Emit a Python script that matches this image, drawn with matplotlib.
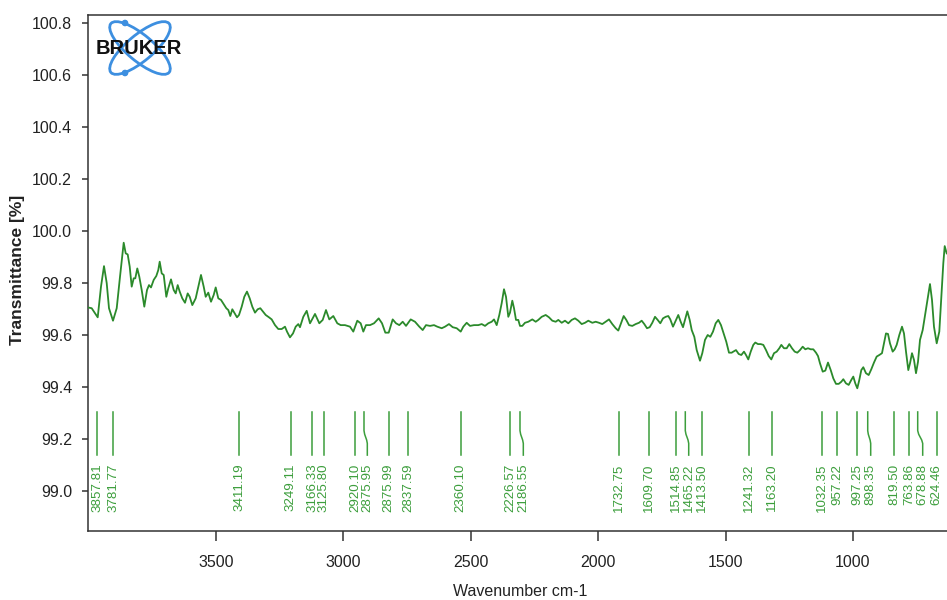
"""FTIR spectrum with peak markers, Bruker-style."""

import matplotlib

matplotlib.use("Agg")
import matplotlib.pyplot as plt
from matplotlib.patches import Ellipse, Circle

SPEC = "#2b8a2b"
PEAK = "#3c9e3c"
AXIS = "#333333"
LOGO = "#3d8fe0"

plt.rcParams.update(
    {
        "font.family": ["Liberation Sans", "DejaVu Sans"],
        "font.size": 11,
        "axes.linewidth": 1.1,
        "axes.edgecolor": AXIS,
        "xtick.color": AXIS,
        "ytick.color": AXIS,
        "xtick.labelcolor": "#222222",
        "ytick.labelcolor": "#222222",
    }
)

# spectrum (wavenumber cm-1, transmittance %)
wavenumber = [
    4002.4, 3987.9, 3964.3, 3951.4, 3939.6, 3929.0, 3920.0, 3904.3, 3889.7, 3876.8,
    3862.3, 3854.4, 3846.6, 3838.7, 3830.9, 3823.0, 3816.8, 3808.9, 3801.0, 3791.6,
    3781.4, 3770.8, 3763.0, 3755.1, 3744.5, 3734.3, 3726.5, 3721.0, 3713.1, 3705.3,
    3695.0, 3687.2, 3676.6, 3666.0, 3658.2, 3650.3, 3642.5, 3632.3, 3621.7, 3611.1,
    3603.2, 3593.0, 3579.7, 3569.5, 3558.9, 3548.3, 3540.4, 3530.2, 3519.6, 3509.0,
    3501.2, 3491.0, 3480.4, 3469.8, 3459.6, 3451.7, 3443.9, 3436.0, 3428.2, 3417.6,
    3409.7, 3399.1, 3388.9, 3378.4, 3367.7, 3357.5, 3346.9, 3336.3, 3326.1, 3315.5,
    3304.9, 3292.0, 3281.4, 3268.4, 3255.5, 3242.1, 3229.2, 3221.3, 3209.6, 3197.8,
    3187.2, 3177.0, 3170.3, 3157.3, 3144.0, 3131.0, 3111.4, 3094.5, 3081.2, 3068.3,
    3055.3, 3039.6, 3023.9, 3010.5, 2993.7, 2974.0, 2961.1, 2945.4, 2932.1, 2921.8,
    2911.3, 2895.5, 2879.8, 2861.4, 2848.4, 2835.4, 2822.1, 2806.5, 2793.5, 2780.5,
    2767.2, 2754.2, 2735.8, 2718.9, 2702.0, 2688.7, 2675.7, 2660.0, 2644.3, 2631.4,
    2614.1, 2601.2, 2585.5, 2570.9, 2555.2, 2539.5, 2529.3, 2516.0, 2503.0, 2487.3,
    2470.5, 2457.1, 2444.1, 2431.2, 2417.9, 2408.8, 2398.3, 2388.0, 2378.7, 2369.6,
    2361.7, 2352.7, 2346.0, 2337.0, 2330.3, 2322.5, 2313.5, 2306.8, 2297.8, 2287.2,
    2274.2, 2258.5, 2245.2, 2235.0, 2221.6, 2205.9, 2193.0, 2180.0, 2166.7, 2156.4,
    2143.1, 2130.2, 2117.2, 2103.9, 2090.9, 2077.9, 2064.6, 2051.7, 2038.7, 2023.0,
    2009.6, 1996.7, 1983.8, 1970.4, 1957.5, 1944.5, 1931.2, 1921.0, 1910.4, 1899.8,
    1889.6, 1878.9, 1866.0, 1852.7, 1839.7, 1829.2, 1818.9, 1808.3, 1797.8, 1787.5,
    1776.9, 1766.4, 1756.1, 1745.5, 1734.9, 1724.7, 1716.9, 1706.3, 1695.6, 1685.5,
    1676.1, 1667.0, 1659.2, 1650.1, 1640.7, 1632.8, 1622.6, 1613.2, 1600.3, 1591.3,
    1580.7, 1570.1, 1559.8, 1549.3, 1538.7, 1528.5, 1517.9, 1507.3, 1497.1, 1486.5,
    1475.9, 1469.6, 1459.0, 1448.4, 1438.2, 1427.6, 1419.7, 1410.7, 1401.2, 1391.0,
    1383.2, 1372.6, 1362.0, 1351.8, 1341.2, 1330.6, 1320.4, 1309.8, 1299.2, 1289.0,
    1281.1, 1270.6, 1260.0, 1249.8, 1239.2, 1228.6, 1218.4, 1207.8, 1197.2, 1187.0,
    1176.4, 1165.8, 1155.6, 1145.0, 1137.1, 1129.3, 1118.6, 1108.4, 1097.9, 1087.2,
    1077.0, 1066.5, 1055.9, 1045.7, 1037.8, 1027.3, 1016.7, 1006.5, 998.6, 990.8,
    982.9, 975.0, 967.2, 959.3, 948.8, 938.2, 928.0, 917.4, 906.8, 896.6,
    886.0, 878.1, 870.3, 862.4, 854.6, 844.0, 836.1, 828.3, 818.0, 807.4,
    799.6, 791.7, 782.7, 776.0, 768.2, 760.3, 752.5, 744.6, 736.8, 726.2,
    716.0, 705.4, 697.6, 689.7, 681.9, 671.2, 661.0, 653.2, 645.3, 639.8,
    632.0,
]
transmittance = [
    99.706, 99.703, 99.668, 99.786, 99.865, 99.800, 99.703, 99.655, 99.703, 99.824,
    99.955, 99.914, 99.910, 99.863, 99.786, 99.818, 99.818, 99.856, 99.824, 99.773,
    99.709, 99.773, 99.792, 99.783, 99.812, 99.827, 99.850, 99.882, 99.837, 99.831,
    99.747, 99.780, 99.814, 99.773, 99.760, 99.792, 99.767, 99.741, 99.724, 99.760,
    99.747, 99.715, 99.741, 99.786, 99.831, 99.786, 99.747, 99.763, 99.728, 99.754,
    99.783, 99.741, 99.735, 99.719, 99.703, 99.696, 99.673, 99.699, 99.686, 99.668,
    99.677, 99.709, 99.747, 99.767, 99.741, 99.709, 99.686, 99.699, 99.703, 99.690,
    99.677, 99.668, 99.660, 99.638, 99.623, 99.623, 99.632, 99.613, 99.591, 99.606,
    99.632, 99.642, 99.630, 99.670, 99.693, 99.645, 99.681, 99.645, 99.658, 99.696,
    99.660, 99.673, 99.645, 99.638, 99.638, 99.632, 99.613, 99.655, 99.645, 99.613,
    99.638, 99.638, 99.645, 99.664, 99.645, 99.609, 99.609, 99.660, 99.645, 99.638,
    99.651, 99.635, 99.660, 99.651, 99.632, 99.619, 99.638, 99.635, 99.638, 99.632,
    99.626, 99.632, 99.642, 99.630, 99.626, 99.613, 99.632, 99.647, 99.635, 99.638,
    99.638, 99.642, 99.635, 99.645, 99.651, 99.660, 99.638, 99.677, 99.722, 99.776,
    99.747, 99.670, 99.686, 99.732, 99.703, 99.658, 99.658, 99.635, 99.635, 99.647,
    99.651, 99.660, 99.651, 99.658, 99.670, 99.677, 99.668, 99.655, 99.651, 99.658,
    99.647, 99.655, 99.645, 99.658, 99.664, 99.655, 99.642, 99.647, 99.655, 99.647,
    99.651, 99.647, 99.642, 99.651, 99.660, 99.642, 99.626, 99.617, 99.645, 99.673,
    99.658, 99.638, 99.635, 99.642, 99.647, 99.655, 99.642, 99.626, 99.630, 99.647,
    99.670, 99.658, 99.645, 99.664, 99.670, 99.673, 99.660, 99.632, 99.655, 99.677,
    99.651, 99.630, 99.658, 99.691, 99.658, 99.619, 99.593, 99.542, 99.501, 99.530,
    99.581, 99.600, 99.593, 99.613, 99.645, 99.658, 99.638, 99.606, 99.574, 99.532,
    99.532, 99.536, 99.542, 99.527, 99.523, 99.536, 99.523, 99.506, 99.536, 99.562,
    99.571, 99.565, 99.565, 99.562, 99.542, 99.519, 99.506, 99.530, 99.536, 99.549,
    99.562, 99.549, 99.549, 99.565, 99.549, 99.536, 99.532, 99.542, 99.555, 99.545,
    99.549, 99.545, 99.545, 99.532, 99.519, 99.491, 99.459, 99.463, 99.494, 99.465,
    99.433, 99.412, 99.412, 99.420, 99.430, 99.414, 99.408, 99.427, 99.440, 99.414,
    99.395, 99.427, 99.465, 99.476, 99.453, 99.446, 99.468, 99.494, 99.517, 99.523,
    99.530, 99.568, 99.606, 99.604, 99.568, 99.536, 99.545, 99.562, 99.600, 99.632,
    99.606, 99.536, 99.465, 99.491, 99.530, 99.504, 99.453, 99.497, 99.581, 99.619,
    99.683, 99.747, 99.796, 99.735, 99.632, 99.568, 99.613, 99.747, 99.876, 99.942,
    99.914,
]

# peak markers: where the stick starts (top) and where its label sits (base)
peak_top = [
    3965.9, 3903.1, 3408.5, 3206.8, 3122.0, 3076.1, 2953.3, 2919.1, 2822.1, 2746.4,
    2539.5, 2346.0, 2306.8, 1919.4, 1801.6, 1694.5, 1658.0, 1591.3, 1409.2, 1317.7,
    1121.5, 1061.4, 982.9, 942.0, 838.9, 778.8, 745.8, 671.2,
]
peak_base = [
    3965.9, 3903.1, 3408.5, 3206.8, 3122.0, 3076.1, 2953.3, 2906.1, 2822.1, 2746.4,
    2539.5, 2346.0, 2293.8, 1919.4, 1801.6, 1694.5, 1644.6, 1591.3, 1409.2, 1317.7,
    1121.5, 1061.4, 982.9, 930.3, 838.9, 778.8, 726.2, 671.2,
]
peak_labels = [
    "3857.81", "3781.77", "3411.19", "3249.11", "3166.33", "3125.80", "2920.10",
    "2875.95", "2875.99", "2837.59", "2360.10", "2226.57", "2186.55", "1732.75",
    "1609.70", "1514.85", "1465.22", "1413.50", "1241.32", "1163.20", "1032.35",
    "957.22", "997.25", "898.35", "819.50", "763.86", "678.88", "624.46",
]

x_ticks = [3500, 3000, 2500, 2000, 1500, 1000]
y_ticks = [99.0, 99.2, 99.4, 99.6, 99.8, 100.0, 100.2, 100.4, 100.6, 100.8]

W, H = 947, 600
fig = plt.figure(figsize=(W / 100, H / 100), dpi=100)
ax = fig.add_axes([88 / W, 1 - 531 / H, 1 - 88 / W, 516 / H])

ax.plot(wavenumber, transmittance, color=SPEC, lw=1.3, zorder=3)

# sticks: straight down, small S-bend where a label had to be shifted
for top, base, lab in zip(peak_top, peak_base, peak_labels):
    xs = [top, top, top + (base - top) * 0.2, top + (base - top) * 0.8, base, base]
    ys = [99.304, 99.232, 99.218, 99.196, 99.183, 99.138]
    ax.plot(xs, ys, color=PEAK, lw=1.1, zorder=2)
    ax.text(base, 99.105, lab, rotation=90, ha="center", va="top",
            fontsize=9.6, color=PEAK)

ax.set_xlim(4002.4, 630.8)
ax.set_ylim(98.846, 100.831)
ax.set_xticks(x_ticks)
ax.set_xticklabels([str(t) for t in x_ticks])
ax.set_yticks(y_ticks)
ax.set_yticklabels([f"{t:.1f}" for t in y_ticks])
ax.tick_params(axis="x", direction="out", length=7, width=1.1, pad=10, labelsize=11.5)
ax.tick_params(axis="y", direction="out", length=4.5, width=1.1, pad=7, labelsize=11.5)
ax.spines["right"].set_visible(False)

fig.text(520 / W, 1 - 591 / H, "Wavenumber cm-1", ha="center", va="center",
         fontsize=11.5, color="#222222")
fig.text(18 / W, 1 - 270 / H, "Transmittance [%]", ha="center", va="center",
         rotation=90, fontsize=12.5, fontweight="bold", color="#222222")

# Bruker logo in pixel coordinates
lg = fig.add_axes([92 / W, 1 - 80 / H, 96 / W, 62 / H])
lg.set_xlim(92, 188)
lg.set_ylim(80, 18)
lg.set_aspect("equal")
lg.axis("off")
for ang in (40, -40):
    lg.add_patch(Ellipse((140, 48), 76, 26, angle=ang, fill=False,
                         ec=LOGO, lw=2.0))
for cy in (23, 73):
    lg.add_patch(Circle((125, cy), 2.6, color=LOGO))
lg.text(139, 48, "BRUKER", ha="center", va="center", fontsize=14.5,
        fontweight="bold", color="#111111")

fig.savefig("out.png", dpi=100, facecolor="white")
